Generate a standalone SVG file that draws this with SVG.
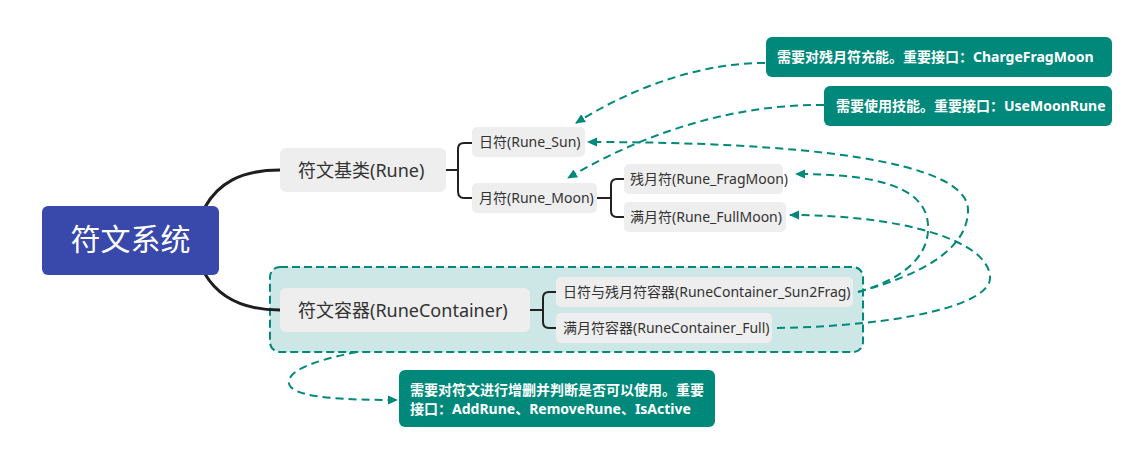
<svg xmlns="http://www.w3.org/2000/svg" width="1138" height="458" viewBox="0 0 1138 458">
<defs>
<style>
.t{font-family:"Noto Sans","Noto Sans CJK SC",sans-serif;fill:#333333}
.w{font-family:"Noto Sans","Noto Sans CJK SC",sans-serif;fill:#ffffff;font-weight:bold;font-size:14px}
.n{fill:#eeeeee}
.c{fill:#00897b}
.tree{fill:none;stroke:#1e1e1e;stroke-width:3}
.br{fill:none;stroke:#222222;stroke-width:2}
.d{fill:none;stroke:#00897b;stroke-width:2;stroke-dasharray:8 5;marker-end:url(#ah)}
</style>
<marker id="ah" viewBox="0 0 10 10" refX="9" refY="5" markerWidth="10" markerHeight="10" markerUnits="userSpaceOnUse" orient="auto">
<path d="M0,0.5 L10,5 L0,9.5 Z" fill="#00897b"/>
</marker>
</defs>
<rect width="1138" height="458" fill="#ffffff"/>

<g id="container-boundary">
<rect x="270" y="267" width="593" height="85" rx="10" fill="#cde7e6" stroke="#00897b" stroke-width="2" stroke-dasharray="8 4"/>
</g>

<g id="connectors">
<path class="tree" d="M205,207 C218,184 240,170 280,170"/>
<path class="tree" d="M205,274 C218,296 240,310 280,310"/>
<path class="br" d="M446,170 H458 M472,143 H464 Q458,143 458,149 V191 Q458,198 464,198 H472"/>
<path class="br" d="M597,198 H611 M624,179 H617 Q611,179 611,185 V211 Q611,217 617,217 H624"/>
<path class="br" d="M530,310 H543 M556,292 H549 Q543,292 543,298 V322 Q543,328 549,328 H556"/>
<path class="d" d="M765,63 C690,63 620,95 576,123"/>
<path class="d" d="M824,105 C730,104 640,135 568,178"/>
<path class="d" d="M858,292 C920,275 968,250 968,210 C968,160 800,142 588,142"/>
<path class="d" d="M858,292 C900,280 930,258 928,225 C926,188 880,174 796,174"/>
<path class="d" d="M777,328 C900,326 990,305 990,278 C990,240 900,215 790,215"/>
<path class="d" d="M357,352 C315,360 282,372 290,386 C298,398 345,400 397,400"/>
</g>

<g id="root">
<rect x="42" y="206" width="177" height="69" rx="6" fill="#3949ab"/>
<text x="130.5" y="250" text-anchor="middle" font-family="Noto Sans CJK SC, sans-serif" font-size="30" fill="#ffffff">符文系统</text>
</g>

<g id="rune">
<rect class="n" x="280" y="148" width="166" height="44" rx="6"/>
<text class="t" x="298" y="177" font-size="18">符文基类(Rune)</text>
</g>

<g id="rune-container">
<rect class="n" x="280" y="288" width="250" height="44" rx="6"/>
<text class="t" x="298" y="317" font-size="18">符文容器(RuneContainer)</text>
</g>

<g id="rune-sun">
<rect class="n" x="472" y="127" width="113" height="30" rx="5"/>
<text class="t" x="479" y="147" font-size="14">日符(Rune_Sun)</text>
</g>

<g id="rune-moon">
<rect class="n" x="472" y="183" width="125" height="30" rx="5"/>
<text class="t" x="479" y="203" font-size="14">月符(Rune_Moon)</text>
</g>

<g id="rune-fragmoon">
<rect class="n" x="624" y="164" width="159" height="30" rx="5"/>
<text class="t" x="630" y="184" font-size="14">残月符(Rune_FragMoon)</text>
</g>

<g id="rune-fullmoon">
<rect class="n" x="624" y="202" width="162" height="30" rx="5"/>
<text class="t" x="630" y="222" font-size="14">满月符(Rune_FullMoon)</text>
</g>

<g id="container-sun2frag">
<rect class="n" x="556" y="277" width="297" height="30" rx="5"/>
<text class="t" x="563" y="297" font-size="14">日符与残月符容器(RuneContainer_Sun2Frag)</text>
</g>

<g id="container-full">
<rect class="n" x="556" y="313" width="216" height="30" rx="5"/>
<text class="t" x="563" y="333" font-size="14">满月符容器(RuneContainer_Full)</text>
</g>

<g id="note-charge">
<rect class="c" x="766" y="37" width="346" height="40" rx="6"/>
<text class="w" x="777" y="62">需要对残月符充能。重要接口：ChargeFragMoon</text>
</g>

<g id="note-use">
<rect class="c" x="824" y="86" width="288" height="40" rx="6"/>
<text class="w" x="836" y="111">需要使用技能。重要接口：UseMoonRune</text>
</g>

<g id="note-container">
<rect class="c" x="399" y="370" width="316" height="57" rx="6"/>
<text class="w" x="410" y="395">需要对符文进行增删并判断是否可以使用。重要</text>
<text class="w" x="410" y="414">接口：AddRune、RemoveRune、IsActive</text>
</g>
</svg>
